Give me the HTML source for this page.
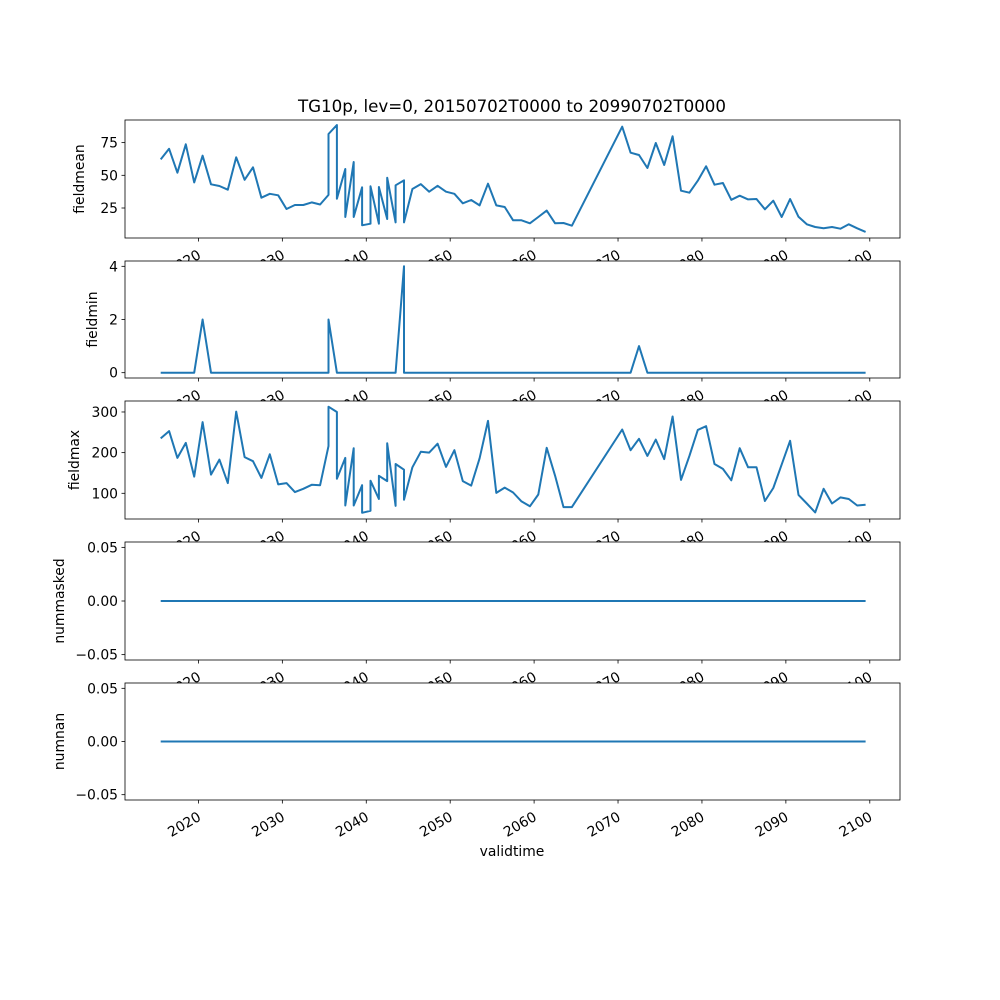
<!DOCTYPE html>
<html><head><meta charset="utf-8"><style>
body{margin:0;background:#fff}
svg{display:block;font-family:"DejaVu Sans","Liberation Sans",sans-serif}
</style></head><body>
<svg id="fig" width="1000" height="1000" xmlns="http://www.w3.org/2000/svg">
<text x="512" y="112" text-anchor="middle" font-size="16.7">TG10p, lev=0, 20150702T0000 to 20990702T0000</text>
</svg>
<script>
const times=[2015.5,2016.5,2017.5,2018.5,2019.5,2020.5,2021.5,2022.5,2023.5,2024.5,2025.5,2026.5,2027.5,2028.5,2029.5,2030.5,2031.5,2032.5,2033.5,2034.5,2035.5,2035.5,2036.5,2036.5,2037.5,2037.5,2038.5,2038.5,2039.5,2039.5,2040.5,2040.5,2041.5,2041.5,2042.5,2042.5,2043.5,2043.5,2044.5,2044.5,2045.5,2046.5,2047.5,2048.5,2049.5,2050.5,2051.5,2052.5,2053.5,2054.5,2055.5,2056.5,2057.5,2058.5,2059.5,2060.5,2061.5,2062.5,2063.5,2064.5,2070.5,2071.5,2072.5,2073.5,2074.5,2075.5,2076.5,2077.5,2078.5,2079.5,2080.5,2081.5,2082.5,2083.5,2084.5,2085.5,2086.5,2087.5,2088.5,2089.5,2090.5,2091.5,2092.5,2093.5,2094.5,2095.5,2096.5,2097.5,2098.5,2099.5];
const fieldmean=[62.2,70.3,52,73.7,44.6,65,43.1,41.8,39,63.8,46.6,56.1,32.9,35.9,34.7,24.2,27.3,27.3,29.3,27.7,35,81.6,88.5,32.1,54.8,18.1,60.2,18.1,40.8,11.8,13,41.6,13,41.1,16.6,48.2,14,42.4,46.2,14,39.5,43.3,37.5,42,37.5,35.9,28.6,31.1,27,43.6,27,25.8,15.6,15.6,13.3,18.1,23,13.3,13.5,11.5,87.2,67.3,65.5,55.6,74.7,57.9,79.8,38.2,36.7,45.9,56.9,42.8,44.1,31.3,34.4,31.6,31.9,24,30.6,18.1,31.9,18.3,12.5,10.5,9.5,10.5,9.2,12.5,9.5,6.7];
const fieldmin=[0,0,0,0,0,2,0,0,0,0,0,0,0,0,0,0,0,0,0,0,0,2,0,0,0,0,0,0,0,0,0,0,0,0,0,0,0,0,4,0,0,0,0,0,0,0,0,0,0,0,0,0,0,0,0,0,0,0,0,0,0,0,1,0,0,0,0,0,0,0,0,0,0,0,0,0,0,0,0,0,0,0,0,0,0,0,0,0,0,0];
const fieldmax=[235,253,187,224,141,275,146,183,125,301,189,179,138,196,122,125,103,111,121,120,216,313,300,136,187,70,211,70,120,52,57,131,86,143,130,223,69,172,158,84,164,202,200,222,165,206,130,119,186,278,101,114,102,80,68,97,212,143,66,66,257,206,234,192,232,184,289,133,192,256,265,172,160,132,211,164,164,81,113,171,229,96,75,53,111,75,90,86,70,72];
const nummasked=times.map(()=>0);
const numnan=times.map(()=>0);
const xTicks=[2020,2030,2040,2050,2060,2070,2080,2090,2100];

const svg=document.getElementById('fig');
const NS='http://www.w3.org/2000/svg';
function mk(tag,attrs,parent){const e=document.createElementNS(NS,tag);for(const k in attrs)e.setAttribute(k,attrs[k]);(parent||svg).appendChild(e);return e;}
const X0=125,X1=900,YR0=2011.25,YR1=2103.6;
function xs(t){return X0+(t-YR0)/(YR1-YR0)*(X1-X0);}

const panels=[
 {name:'fieldmean',data:fieldmean,top:120,bot:238,lo:2.06,hi:92.3,ticks:[25,50,75],fmt:v=>String(v),lx:84},
 {name:'fieldmin',data:fieldmin,top:261,bot:378,lo:-0.2,hi:4.2,ticks:[0,2,4],fmt:v=>String(v),lx:97},
 {name:'fieldmax',data:fieldmax,top:401,bot:519,lo:36.8,hi:327,ticks:[100,200,300],fmt:v=>String(v),lx:79},
 {name:'nummasked',data:nummasked,top:542,bot:660,lo:-0.055,hi:0.055,ticks:[-0.05,0,0.05],fmt:v=>v.toFixed(2).replace('-','\u2212'),lx:64},
 {name:'numnan',data:numnan,top:683,bot:800,lo:-0.055,hi:0.055,ticks:[-0.05,0,0.05],fmt:v=>v.toFixed(2).replace('-','\u2212'),lx:64}
];
panels.forEach((p,i)=>{
 const g=mk('g',{});
 
 
 const ys=v=>p.bot-(v-p.lo)/(p.hi-p.lo)*(p.bot-p.top);
 mk('rect',{x:X0,y:p.top,width:X1-X0,height:p.bot-p.top,fill:'#fff'},g);
 const pts=times.map((t,j)=>xs(t).toFixed(1)+','+ys(p.data[j]).toFixed(1)).join(' ');
 const line=mk('polyline',{points:pts,fill:'none',stroke:'#1f77b4','stroke-width':2,'stroke-linejoin':'round'},g);
 
 
 mk('rect',{x:X0,y:p.top,width:X1-X0,height:p.bot-p.top,fill:'none',stroke:'#000','stroke-width':0.8},g);
 p.ticks.forEach(v=>{
  const y=ys(v);
  mk('line',{x1:X0-3.5,x2:X0,y1:y,y2:y,stroke:'#000','stroke-width':0.8},g);
  const t=mk('text',{x:X0-7,y:y+5,'text-anchor':'end','font-size':13.9},g);
  t.textContent=p.fmt(v);
 });
 xTicks.forEach(yr=>{
  const x=xs(yr);
  mk('line',{x1:x,x2:x,y1:p.bot,y2:p.bot+3.5,stroke:'#000','stroke-width':0.8},g);
  const ax=x-2, ay=p.bot+10;
  const t=mk('text',{x:ax,y:ay+11,'text-anchor':'end','font-size':13.9,transform:`rotate(-30 ${ax} ${ay})`},g);
  t.textContent=yr;
 });
 const yl=mk('text',{x:p.lx,y:(p.top+p.bot)/2,'text-anchor':'middle','font-size':13.9,transform:`rotate(-90 ${p.lx} ${(p.top+p.bot)/2})`},g);
 
 
 yl.textContent=p.name;
});
const xl=mk('text',{x:512,y:856,'text-anchor':'middle','font-size':13.9});


xl.textContent='validtime';
</script>
</body></html>
